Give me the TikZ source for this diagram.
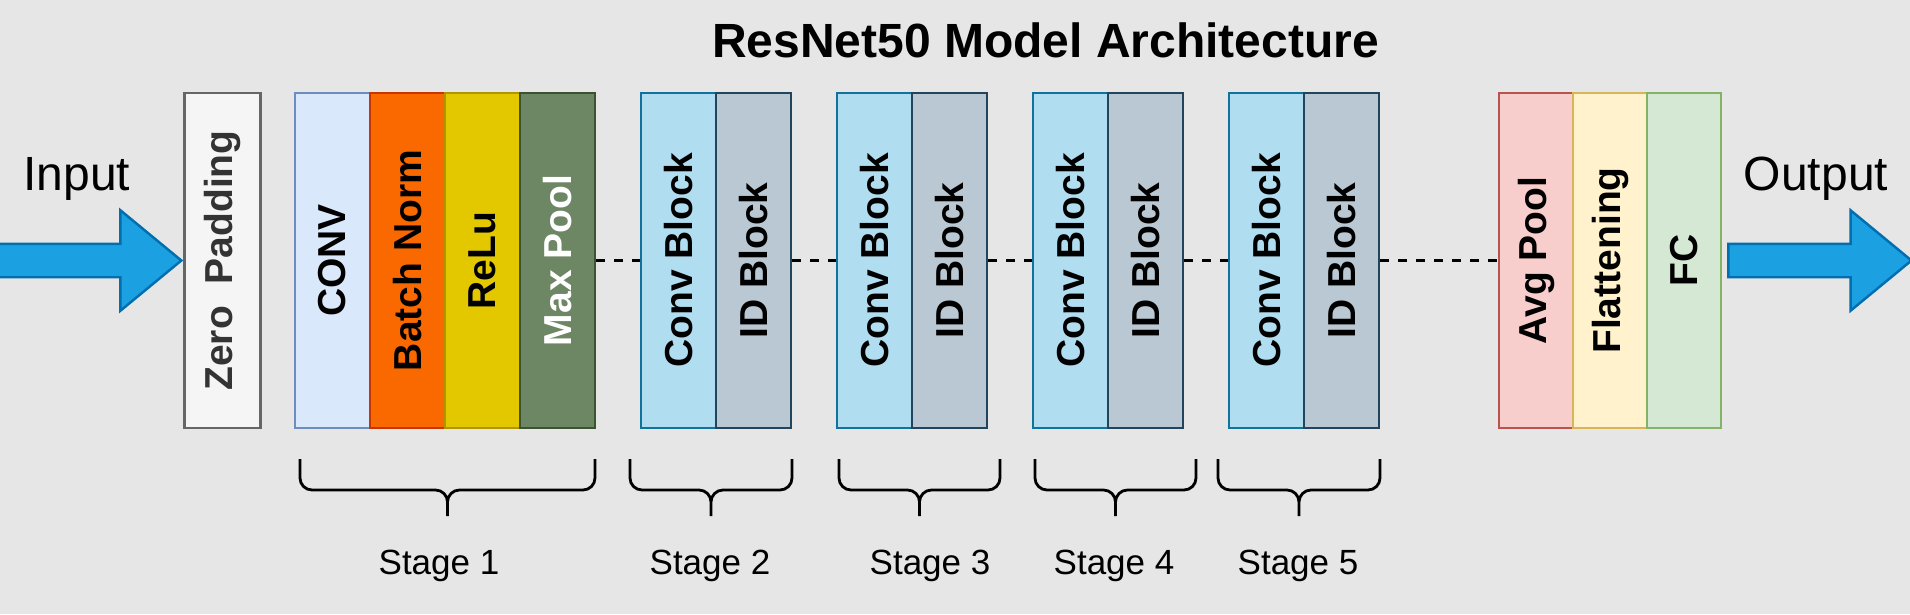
\documentclass[tikz,border=0pt]{standalone}
\usepackage{fontspec}
\setmainfont{Liberation Sans}
\usepackage{xcolor}
\usepackage{tikz}
\usetikzlibrary{matrix,calc,shapes,arrows,positioning}

\definecolor{bgcol}{HTML}{E6E6E6}
\definecolor{zpfill}{HTML}{F5F5F5}
\definecolor{zpline}{HTML}{666666}
\definecolor{zptext}{HTML}{333333}
\definecolor{convfill}{HTML}{DAE8FC}
\definecolor{convline}{HTML}{6C8EBF}
\definecolor{bnfill}{HTML}{FA6800}
\definecolor{bnline}{HTML}{C73500}
\definecolor{relufill}{HTML}{E3C800}
\definecolor{reluline}{HTML}{B09500}
\definecolor{mpfill}{HTML}{6D8764}
\definecolor{mpline}{HTML}{3A5431}
\definecolor{cbfill}{HTML}{B1DDF0}
\definecolor{cbline}{HTML}{10739E}
\definecolor{idfill}{HTML}{BAC8D3}
\definecolor{idline}{HTML}{23445D}
\definecolor{apfill}{HTML}{F8CECC}
\definecolor{apline}{HTML}{B85450}
\definecolor{flfill}{HTML}{FFF2CC}
\definecolor{flline}{HTML}{D6B656}
\definecolor{fcfill}{HTML}{D5E8D4}
\definecolor{fcline}{HTML}{82B366}
\definecolor{arrfill}{HTML}{1BA1E2}
\definecolor{arrline}{HTML}{006EAF}

\newcommand{\blockfont}{\fontsize{11.1pt}{13pt}\selectfont\bfseries}
\newcommand{\titlefont}{\fontsize{13.66pt}{16pt}\selectfont\bfseries}
\newcommand{\iofont}{\fontsize{13.66pt}{16pt}\selectfont}
\newcommand{\stagefont}{\fontsize{9.96pt}{12pt}\selectfont}

\begin{document}
\begin{tikzpicture}[line width=0.7pt,
array_zp/.style={matrix of nodes, inner sep=0pt, outer sep=0pt,
nodes={draw=zpline, fill=zpfill, text=zptext, rotate=90, anchor=center, minimum width=3.35cm, minimum height=0.76cm, inner sep=0pt, font=\blockfont}},
array_s1/.style={matrix of nodes, inner sep=0pt, outer sep=0pt, column sep=-\pgflinewidth,
nodes={draw, rotate=90, anchor=center, minimum width=3.35cm, minimum height=0.75cm, inner sep=0pt, font=\blockfont},
row 1 column 1/.style={nodes={draw=convline, fill=convfill}},
row 1 column 2/.style={nodes={draw=bnline, fill=bnfill}},
row 1 column 3/.style={nodes={draw=reluline, fill=relufill}},
row 1 column 4/.style={nodes={draw=mpline, fill=mpfill, text=white}}},
array_st/.style={matrix of nodes, inner sep=0pt, outer sep=0pt, column sep=-\pgflinewidth,
nodes={draw, rotate=90, anchor=center, minimum width=3.35cm, minimum height=0.75cm, inner sep=0pt, font=\blockfont},
row 1 column 1/.style={nodes={draw=cbline, fill=cbfill}},
row 1 column 2/.style={nodes={draw=idline, fill=idfill}}},
array_hd/.style={matrix of nodes, inner sep=0pt, outer sep=0pt, column sep=-\pgflinewidth,
nodes={draw, rotate=90, anchor=center, minimum width=3.35cm, minimum height=0.74cm, inner sep=0pt, font=\blockfont},
row 1 column 1/.style={nodes={draw=apline, fill=apfill}},
row 1 column 2/.style={nodes={draw=flline, fill=flfill}},
row 1 column 3/.style={nodes={draw=fcline, fill=fcfill}}}]

   \tikzstyle{bigarrow}=[single arrow, draw=arrline, fill=arrfill, minimum height=1.83cm, inner xsep=0pt, inner ysep=0.155cm, single arrow head extend=0.335cm, single arrow tip angle=79, single arrow head indent=0pt]
   \tikzstyle{dashline}=[dash pattern=on 0.09cm off 0.09cm, line width=0.6pt]
   \tikzstyle{stagebrace}=[rounded corners=0.12cm, line width=0.8pt]
   \tikzstyle{stagetext}=[anchor=base, font=\stagefont]
   \tikzstyle{iotext}=[anchor=base, font=\iofont]

   % background, fixes the size of the page
   \path[use as bounding box, fill=bgcol] (0,0) rectangle (19.10,6.14);

   \node[anchor=base, font=\titlefont] (TT) at (10.455,5.57) {ResNet50 Model Architecture};

    \matrix[array_zp] at (2.225,3.535) (ZP) {
        Zero\ \ Padding \\};

    \matrix[array_s1] at (4.45,3.535) (S1) {
        CONV & Batch Norm & ReLu & Max Pool \\};

    \matrix[array_st] at (7.16,3.535) (S2) {
        Conv Block & ID Block \\};
    \matrix[array_st] at (9.12,3.535) (S3) {
        Conv Block & ID Block \\};
    \matrix[array_st] at (11.08,3.535) (S4) {
        Conv Block & ID Block \\};
    \matrix[array_st] at (13.04,3.535) (S5) {
        Conv Block & ID Block \\};

    \matrix[array_hd] at (16.10,3.535) (HD) {
        Avg Pool & Flattening & FC \\};

    \path [dashline] (S1) edge (S2)
                     (S2) edge (S3)
                     (S3) edge (S4)
                     (S4) edge (S5)
                     (S5) edge (HD);

    % input and output
    \node[bigarrow, left=0pt of ZP, anchor=tip] (IN) {};
    \node[bigarrow, right=0.05cm of HD, anchor=tail] (OUT) {};
    \node[iotext] (INT) at (0.767,4.24) {Input};
    \node[iotext] (OUTT) at (18.16,4.24) {Output};

    % stages
    \draw[stagebrace] (3.00,1.55) |- (4.475,1.24) -- (4.475,0.98)
                      (5.95,1.55) |- (4.475,1.24) -- (4.475,0.98);
    \draw[stagebrace] (6.30,1.55) |- (7.11,1.24) -- (7.11,0.98)
                      (7.92,1.55) |- (7.11,1.24) -- (7.11,0.98);
    \draw[stagebrace] (8.39,1.55) |- (9.195,1.24) -- (9.195,0.98)
                      (10.00,1.55) |- (9.195,1.24) -- (9.195,0.98);
    \draw[stagebrace] (10.35,1.55) |- (11.155,1.24) -- (11.155,0.98)
                      (11.96,1.55) |- (11.155,1.24) -- (11.155,0.98);
    \draw[stagebrace] (12.18,1.55) |- (12.99,1.24) -- (12.99,0.98)
                      (13.80,1.55) |- (12.99,1.24) -- (12.99,0.98);

    \node[stagetext] (L1) at (4.39,0.40) {Stage 1};
    \node[stagetext] (L2) at (7.10,0.40) {Stage 2};
    \node[stagetext] (L3) at (9.30,0.40) {Stage 3};
    \node[stagetext] (L4) at (11.14,0.40) {Stage 4};
    \node[stagetext] (L5) at (12.98,0.40) {Stage 5};

\end{tikzpicture}
\end{document}
